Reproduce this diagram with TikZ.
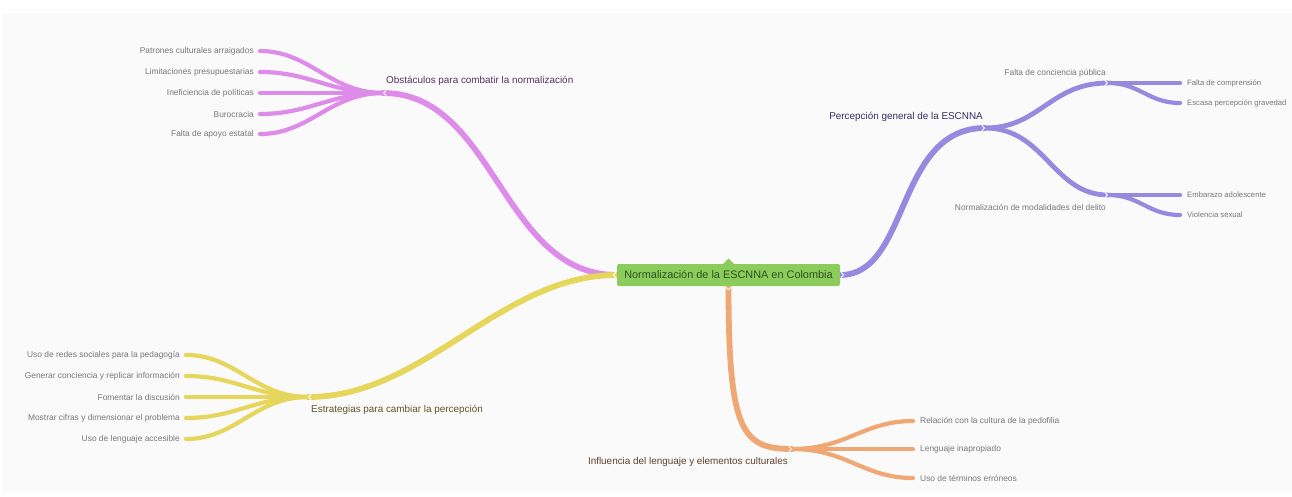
\documentclass[tikz,border=0pt]{standalone}
\usepackage{fontspec}
\setmainfont{Liberation Sans}
\usetikzlibrary{calc,backgrounds}
\definecolor{bgc}{RGB}{250,250,250}
\definecolor{pinkc}{RGB}{222,140,233}
\definecolor{purpc}{RGB}{150,137,224}
\definecolor{yelc}{RGB}{230,214,92}
\definecolor{orac}{RGB}{239,168,116}
\definecolor{greenc}{RGB}{140,204,92}
\definecolor{roottxt}{RGB}{45,80,30}
\definecolor{pinktxt}{RGB}{85,50,92}
\definecolor{yeltxt}{RGB}{95,85,40}
\definecolor{purptxt}{RGB}{55,48,95}
\definecolor{oratxt}{RGB}{95,65,45}
\definecolor{leafgray}{RGB}{120,118,122}
\begin{document}
\begin{tikzpicture}[x=1pt,y=-1pt,
  mainbr/.style={line width=5.8pt,line cap=round},
  subbr/.style={line width=4.8pt,line cap=round},
  leafbr/.style={line width=4.2pt,line cap=round},
  leaftxt/.style={font=\fontsize{8.4}{10}\selectfont,text=leafgray,inner sep=0pt},
  smallleaf/.style={leaftxt,font=\fontsize{7.7}{9}\selectfont},
  brtxt/.style={font=\fontsize{9.9}{12}\selectfont,inner sep=0pt},
  rootbox/.style={fill=greenc,rounded corners=2pt,minimum width=223pt,minimum height=22pt,
    inner sep=0pt,text=roottxt,font=\fontsize{10.9}{13}\selectfont},
  chevl/.pic={\draw[white,line width=0.8pt,line cap=round,line join=round] (2,-2.5)--(-0.5,0)--(2,2.5);},
  chevr/.pic={\draw[white,line width=0.8pt,line cap=round,line join=round] (-2,-2.5)--(0.5,0)--(-2,2.5);},
  chevd/.pic={\draw[white,line width=0.8pt,line cap=round,line join=round] (-2.5,-2)--(0,0.5)--(2.5,-2);}
]
\useasboundingbox (0,0) rectangle (1292,497);

% root
\node[rootbox] (root) at (728.5,275) {Normalización de la ESCNNA en Colombia};
\fill[greenc] (722.5,264.5) -- (728.5,258.5) -- (734.5,264.5) -- cycle;

% branch points
\coordinate (ob) at (383,93);
\coordinate (es) at (308,397);
\coordinate (pe) at (985,128);
\coordinate (fc) at (1108,83);
\coordinate (nm) at (1108,195);
\coordinate (in) at (792,449);

% leaf end points
\coordinate (ob1) at (260,51);
\coordinate (ob2) at (260,72);
\coordinate (ob3) at (260,93);
\coordinate (ob4) at (260,114);
\coordinate (ob5) at (260,134);
\coordinate (es1) at (186,355);
\coordinate (es2) at (186,376);
\coordinate (es3) at (186,397);
\coordinate (es4) at (186,418);
\coordinate (es5) at (186,439);
\coordinate (fc1) at (1180,83);
\coordinate (fc2) at (1180,103);
\coordinate (nm1) at (1180,195);
\coordinate (nm2) at (1180,215);
\coordinate (in1) at (913,421);
\coordinate (in2) at (913,449);
\coordinate (in3) at (913,478);

\begin{scope}[on background layer]
\fill[white] (0,0) rectangle (1292,497);
\fill[bgc] (2,13) rectangle (1292,492);
% pink
\draw[pinkc,mainbr] (root.west) .. controls ($(root.west)+(-115,0)$) and ($(ob)+(112,0)$) .. (ob);
\foreach \k in {1,...,5}{
  \draw[pinkc,leafbr] (ob) .. controls ($(ob)+(-53,0)$) and ($(ob\k)+(50,0)$) .. (ob\k);}
% yellow
\draw[yelc,mainbr] (root.west) .. controls ($(root.west)+(-117,0)$) and ($(es)+(117,0)$) .. (es);
\foreach \k in {1,...,5}{
  \draw[yelc,leafbr] (es) .. controls ($(es)+(-53,0)$) and ($(es\k)+(50,0)$) .. (es\k);}
% purple
\draw[purpc,mainbr] (root.east) .. controls ($(root.east)+(70,0)$) and ($(pe)+(-90,0)$) .. (pe);
\draw[purpc,subbr] (pe) .. controls ($(pe)+(55,0)$) and ($(fc)+(-58,0)$) .. (fc);
\draw[purpc,subbr] (pe) .. controls ($(pe)+(60,0)$) and ($(nm)+(-55,0)$) .. (nm);
\draw[purpc,leafbr] (fc) -- (fc1);
\draw[purpc,leafbr] (fc) .. controls ($(fc)+(32,0)$) and ($(fc2)+(-32,0)$) .. (fc2);
\draw[purpc,leafbr] (nm) -- (nm1);
\draw[purpc,leafbr] (nm) .. controls ($(nm)+(32,0)$) and ($(nm2)+(-32,0)$) .. (nm2);
% orange
\draw[orac,mainbr] (root.south) .. controls ($(root.south)+(0,145)$) and ($(in)+(-50,0)$) .. (in);
\foreach \k in {1,2,3}{
  \draw[orac,leafbr] (in) .. controls ($(in)+(55,0)$) and ($(in\k)+(-50,0)$) .. (in\k);}
\end{scope}

% chevrons
\pic at ($(root.west)+(-3,0)$) {chevl};
\pic at ($(ob)+(1,0)$) {chevl};
\pic at ($(es)+(1,0)$) {chevl};
\pic at ($(root.east)+(3,0)$) {chevr};
\pic at ($(pe)+(-1,0)$) {chevr};
\pic at ($(fc)+(-1,0)$) {chevr};
\pic at ($(nm)+(-1,0)$) {chevr};
\pic at ($(in)+(-1,0)$) {chevr};
\pic at ($(root.south)+(0,3)$) {chevd};

% branch labels
\node[brtxt,text=pinktxt,anchor=west] (obt) at (386,81) {Obstáculos para combatir la normalización};
\node[brtxt,text=yeltxt,anchor=west] (est) at (311,410) {Estrategias para cambiar la percepción};
\node[brtxt,text=purptxt,anchor=east] (pet) at (983,117) {Percepción general de la ESCNNA};
\node[leaftxt,anchor=east] (fct) at (1106,73) {Falta de conciencia pública};
\node[leaftxt,anchor=east] (nmt) at (1106,207) {Normalización de modalidades del delito};
\node[brtxt,text=oratxt,anchor=east] (int) at (788,462) {Influencia del lenguaje y elementos culturales};

% leaf labels
\node[leaftxt,anchor=east] (ob1t) at (254,51) {Patrones culturales arraigados};
\node[leaftxt,anchor=east] (ob2t) at (254,72) {Limitaciones presupuestarias};
\node[leaftxt,anchor=east] (ob3t) at (254,93) {Ineficiencia de políticas};
\node[leaftxt,anchor=east] (ob4t) at (254,114) {Burocracia};
\node[leaftxt,anchor=east] (ob5t) at (254,134) {Falta de apoyo estatal};
\node[leaftxt,anchor=east] (es1t) at (180,355) {Uso de redes sociales para la pedagogía};
\node[leaftxt,anchor=east] (es2t) at (180,376) {Generar conciencia y replicar información};
\node[leaftxt,anchor=east] (es3t) at (180,397) {Fomentar la discusión};
\node[leaftxt,anchor=east] (es4t) at (180,418) {Mostrar cifras y dimensionar el problema};
\node[leaftxt,anchor=east] (es5t) at (180,439) {Uso de lenguaje accesible};
\node[smallleaf,anchor=west] (fc1t) at (1187,83) {Falta de comprensión};
\node[smallleaf,anchor=west] (fc2t) at (1187,103) {Escasa percepción gravedad};
\node[smallleaf,anchor=west] (nm1t) at (1187,195) {Embarazo adolescente};
\node[smallleaf,anchor=west] (nm2t) at (1187,215) {Violencia sexual};
\node[leaftxt,anchor=west] (in1t) at (920,421) {Relación con la cultura de la pedofilia};
\node[leaftxt,anchor=west] (in2t) at (920,449) {Lenguaje inapropiado};
\node[leaftxt,anchor=west] (in3t) at (920,478) {Uso de términos erróneos};
\end{tikzpicture}
\end{document}
